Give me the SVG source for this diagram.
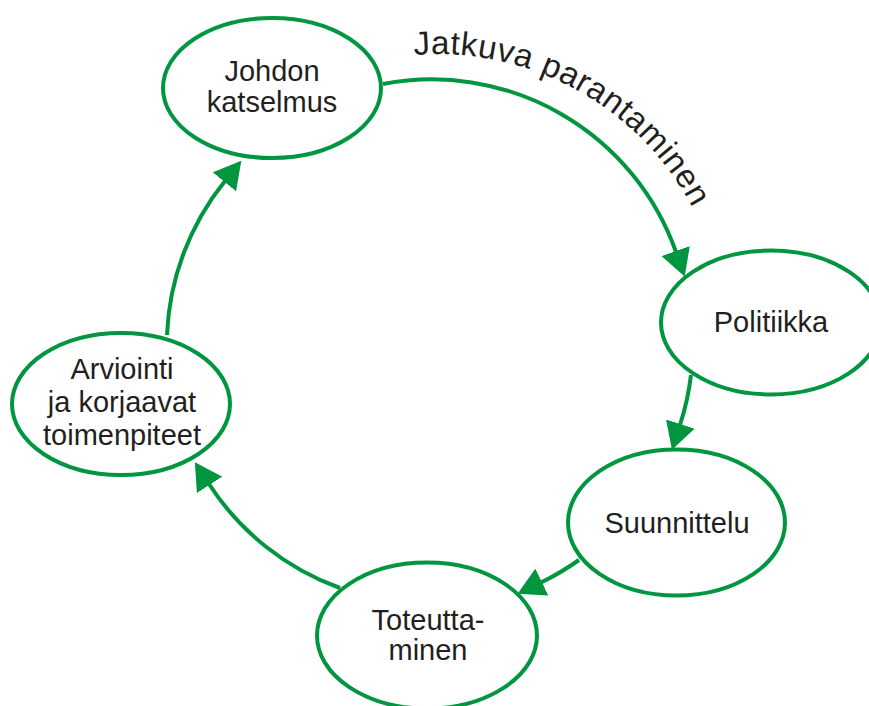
<svg xmlns="http://www.w3.org/2000/svg" width="869" height="706" viewBox="0 0 869 706">
  <style>
    .node ellipse { fill: #ffffff; stroke: #009640; stroke-width: 4; }
    .node text, .label { font-family: "Liberation Sans", Arial, sans-serif; font-size: 29px; fill: #231f20; text-anchor: middle; }
    .edge { fill: none; stroke: #009640; stroke-width: 4; marker-end: url(#arrow); }
  </style>
  <defs>
    <marker id="arrow" markerUnits="userSpaceOnUse" viewBox="0 0 27 30" refX="1" refY="15" markerWidth="27" markerHeight="30" orient="auto">
      <path d="M0,0 L27,15 L0,30 Z" fill="#009640"/>
    </marker>
    <!-- baseline arc for the cycle caption -->
    <path id="arcText" d="M414,55 A289,289 0 0 1 708.6,244.2"/>
  </defs>
  <rect width="869" height="706" fill="#ffffff"/>

  <g id="connectors">
    <path class="edge" d="M383,84 A259,259 0 0 1 676,252"/>
    <path class="edge" d="M691,375 A262,262 0 0 1 680,425"/>
    <path class="edge" d="M579,560 A262,262 0 0 1 541,582.5"/>
    <path class="edge" d="M340,588 A262,262 0 0 1 209,484"/>
    <path class="edge" d="M167,335 A262,262 0 0 1 225,181"/>
  </g>

  <g id="node-johdon" class="node">
    <ellipse cx="272" cy="88" rx="109" ry="70"/>
    <text x="272" y="81">Johdon</text>
    <text x="272" y="112">katselmus</text>
  </g>
  <g id="node-politiikka" class="node">
    <ellipse cx="771" cy="322.5" rx="110" ry="72"/>
    <text x="771" y="332">Politiikka</text>
  </g>
  <g id="node-suunnittelu" class="node">
    <ellipse cx="676.5" cy="522.5" rx="108.5" ry="73"/>
    <text x="677" y="533">Suunnittelu</text>
  </g>
  <g id="node-toteuttaminen" class="node">
    <ellipse cx="427" cy="635.5" rx="110" ry="73"/>
    <text x="428" y="630">Toteutta-</text>
    <text x="428" y="660">minen</text>
  </g>
  <g id="node-arviointi" class="node">
    <ellipse cx="121" cy="404" rx="109" ry="71"/>
    <text x="122" y="379">Arviointi</text>
    <text x="122" y="412">ja korjaavat</text>
    <text x="122" y="445">toimenpiteet</text>
  </g>

  <text id="cycle-label" class="label" style="text-anchor:start;font-size:33px">
    <textPath href="#arcText" textLength="336" lengthAdjust="spacing">Jatkuva parantaminen</textPath>
  </text>
</svg>
